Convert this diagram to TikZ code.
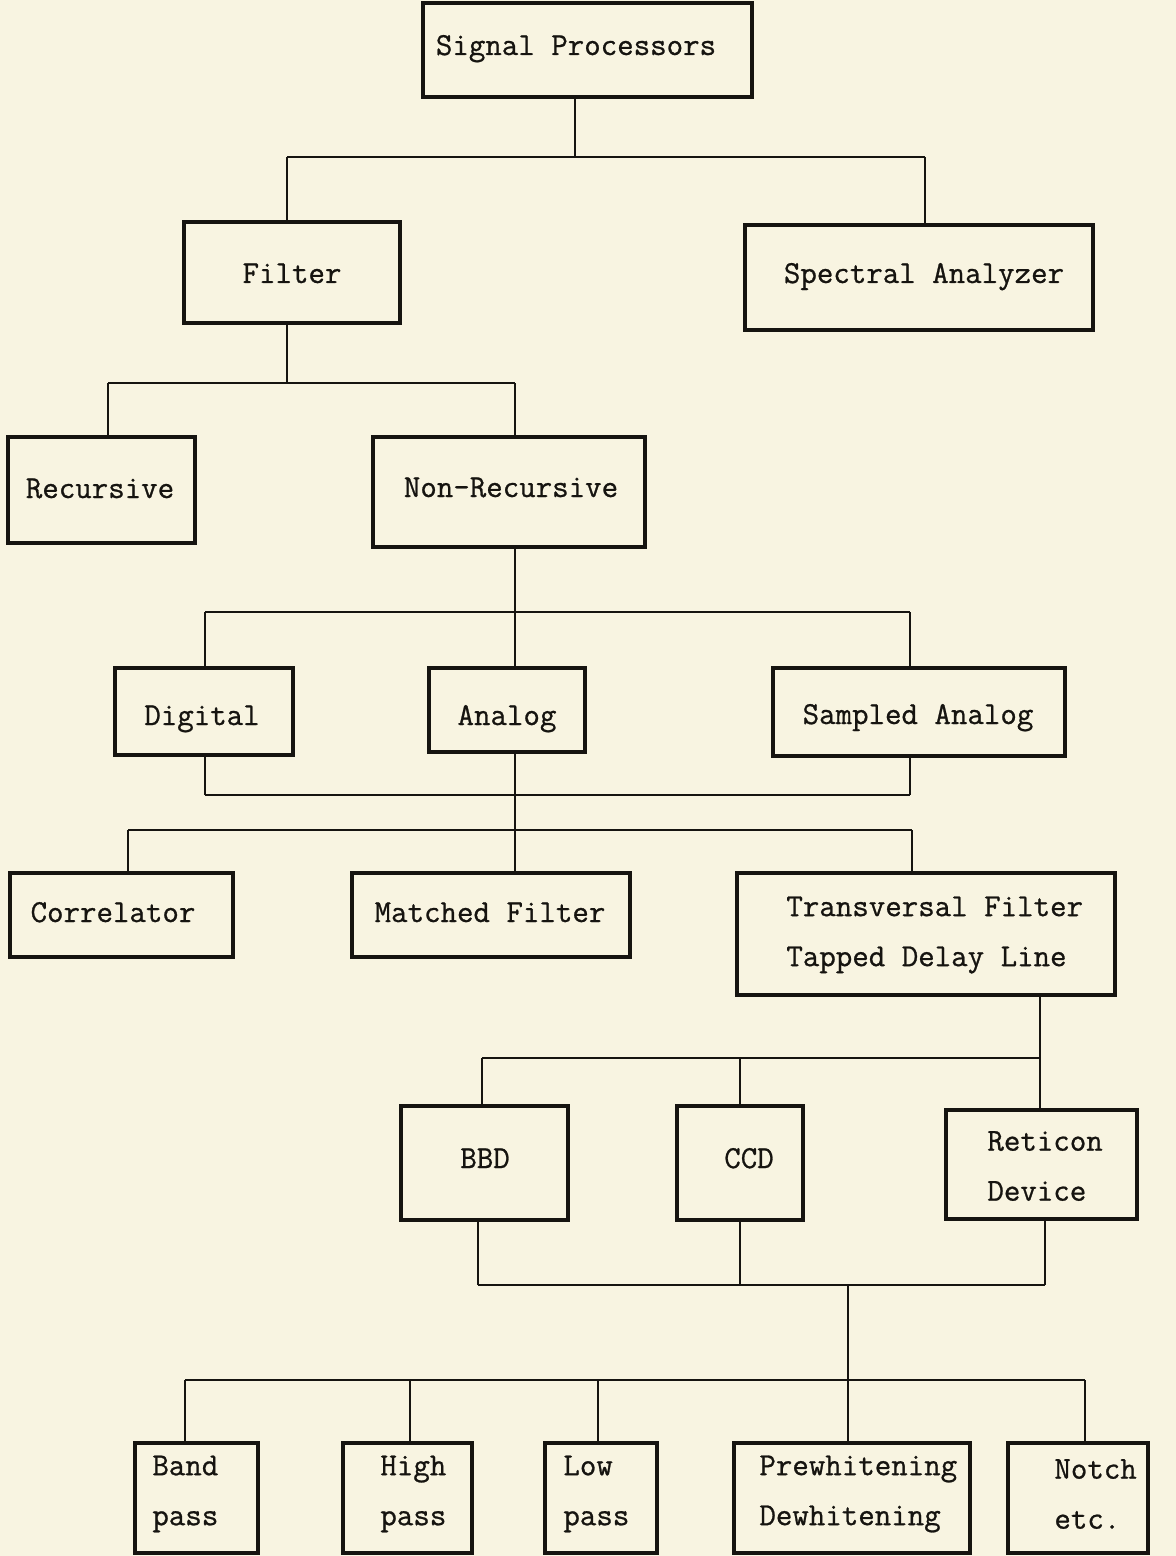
\documentclass[tikz,border=0pt]{standalone}
\usepackage{fontspec}
\newfontfamily\tw{Latin Modern Mono}[FakeBold=0.8]
\usetikzlibrary{fit}
\definecolor{paper}{RGB}{248,244,225}
\definecolor{ink}{RGB}{22,20,16}
\tikzset{
  box/.style={draw=ink, line width=2pt, inner sep=0pt},
  lbl/.style={inner sep=0pt, anchor=base, align=left,
    font=\tw\fontsize{16}{25}\selectfont, text=ink},
  lbl2/.style={lbl, anchor=west},
  wire/.style={draw=ink, line width=1.4pt}
}
\begin{document}
\begin{tikzpicture}[x=0.5pt,y=-0.5pt]
\fill[paper] (0,0) rectangle (1176,1556);
\useasboundingbox (0,0) rectangle (1176,1556);
% boxes
\node[box, fit={(423,3)(752,97)}] (sp) {};
\node[box, fit={(184,222)(400,323)}] (filt) {};
\node[box, fit={(745,225)(1093,330)}] (spec) {};
\node[box, fit={(8,437)(195,543)}] (rec) {};
\node[box, fit={(373,437)(645,547)}] (nonrec) {};
\node[box, fit={(115,668)(293,755)}] (dig) {};
\node[box, fit={(429,668)(585,752)}] (ana) {};
\node[box, fit={(773,668)(1065,756)}] (samp) {};
\node[box, fit={(10,873)(233,957)}] (corr) {};
\node[box, fit={(352,873)(630,957)}] (match) {};
\node[box, fit={(737,873)(1115,995)}] (trans) {};
\node[box, fit={(401,1106)(568,1220)}] (bbd) {};
\node[box, fit={(677,1106)(803,1220)}] (ccd) {};
\node[box, fit={(946,1110)(1137,1219)}] (ret) {};
\node[box, fit={(135,1443)(258,1553)}] (band) {};
\node[box, fit={(343,1443)(472,1553)}] (high) {};
\node[box, fit={(545,1443)(657,1553)}] (low) {};
\node[box, fit={(734,1443)(970,1553)}] (pre) {};
\node[box, fit={(1008,1443)(1148,1553)}] (notch) {};
% labels
\node[lbl] (sp-t) at (576,55) {Signal Processors};
\node[lbl] (filt-t) at (292,283) {Filter};
\node[lbl] (spec-t) at (924,283) {Spectral Analyzer};
\node[lbl] (rec-t) at (100,498) {Recursive};
\node[lbl] (nonrec-t) at (511,497) {Non-Recursive};
\node[lbl] (dig-t) at (202,725) {Digital};
\node[lbl] (ana-t) at (507,725) {Analog};
\node[lbl] (samp-t) at (918,724) {Sampled Analog};
\node[lbl] (corr-t) at (113,922) {Correlator};
\node[lbl] (match-t) at (490,922) {Matched Filter};
\node[lbl2] (trans-t) at (786,935) {Transversal Filter\\Tapped Delay Line};
\node[lbl] (bbd-t) at (485,1168) {BBD};
\node[lbl] (ccd-t) at (749,1168) {CCD};
\node[lbl2] (ret-t) at (987,1166) {Reticon\\Device};
\node[lbl2] (band-t) at (152,1494) {Band\\pass};
\node[lbl2] (high-t) at (380,1494) {High\\pass};
\node[lbl2] (low-t) at (563,1494) {Low\\pass};
\node[lbl2] (pre-t) at (759,1494) {Prewhitening\\Dewhitening};
\node[lbl2] (notch-t) at (1054,1494) {Notch\\etc.};
% bus 1
\coordinate (a1) at (287,157); \coordinate (a2) at (575,157); \coordinate (a3) at (925,157);
\draw[wire] (a1) -- (a3);
\draw[wire] (a2) -- (a2 |- sp.south);
\draw[wire] (a1) -- (a1 |- filt.north);
\draw[wire] (a3) -- (a3 |- spec.north);
% bus 2
\coordinate (b1) at (108,383); \coordinate (b2) at (287,383); \coordinate (b3) at (515,383);
\draw[wire] (b1) -- (b3);
\draw[wire] (b2) -- (b2 |- filt.south);
\draw[wire] (b1) -- (b1 |- rec.north);
\draw[wire] (b3) -- (b3 |- nonrec.north);
% bus 3
\coordinate (c1) at (205,612); \coordinate (c2) at (515,612); \coordinate (c3) at (910,612);
\draw[wire] (c1) -- (c3);
\draw[wire] (c2) -- (c2 |- nonrec.south);
\draw[wire] (c1) -- (c1 |- dig.north);
\draw[wire] (c2) -- (c2 |- ana.north);
\draw[wire] (c3) -- (c3 |- samp.north);
% bus 4 (merge)
\coordinate (d1) at (205,795); \coordinate (d3) at (910,795);
\draw[wire] (d1) -- (d3);
\draw[wire] (d1) -- (d1 |- dig.south);
\draw[wire] (d3) -- (d3 |- samp.south);
% bus 5
\coordinate (e1) at (128,830); \coordinate (e2) at (515,830); \coordinate (e3) at (912,830);
\draw[wire] (e1) -- (e3);
\draw[wire] (e2 |- ana.south) -- (e2 |- match.north);
\draw[wire] (e1) -- (e1 |- corr.north);
\draw[wire] (e3) -- (e3 |- trans.north);
% bus 6
\coordinate (f1) at (482,1058); \coordinate (f2) at (740,1058); \coordinate (f3) at (1040,1058);
\draw[wire] (f1) -- (f3);
\draw[wire] (f3 |- trans.south) -- (f3 |- ret.north);
\draw[wire] (f1) -- (f1 |- bbd.north);
\draw[wire] (f2) -- (f2 |- ccd.north);
% bus 7 (merge)
\coordinate (g1) at (478,1285); \coordinate (g2) at (740,1285); \coordinate (g3) at (1045,1285);
\coordinate (g4) at (848,1285);
\draw[wire] (g1) -- (g3);
\draw[wire] (g1) -- (g1 |- bbd.south);
\draw[wire] (g2) -- (g2 |- ccd.south);
\draw[wire] (g3) -- (g3 |- ret.south);
% bus 8
\coordinate (h1) at (185,1380); \coordinate (h2) at (410,1380); \coordinate (h3) at (598,1380);
\coordinate (h4) at (848,1380); \coordinate (h5) at (1085,1380);
\draw[wire] (h1) -- (h5);
\draw[wire] (g4) -- (h4 |- pre.north);
\draw[wire] (h1) -- (h1 |- band.north);
\draw[wire] (h2) -- (h2 |- high.north);
\draw[wire] (h3) -- (h3 |- low.north);
\draw[wire] (h5) -- (h5 |- notch.north);
\end{tikzpicture}
\end{document}
